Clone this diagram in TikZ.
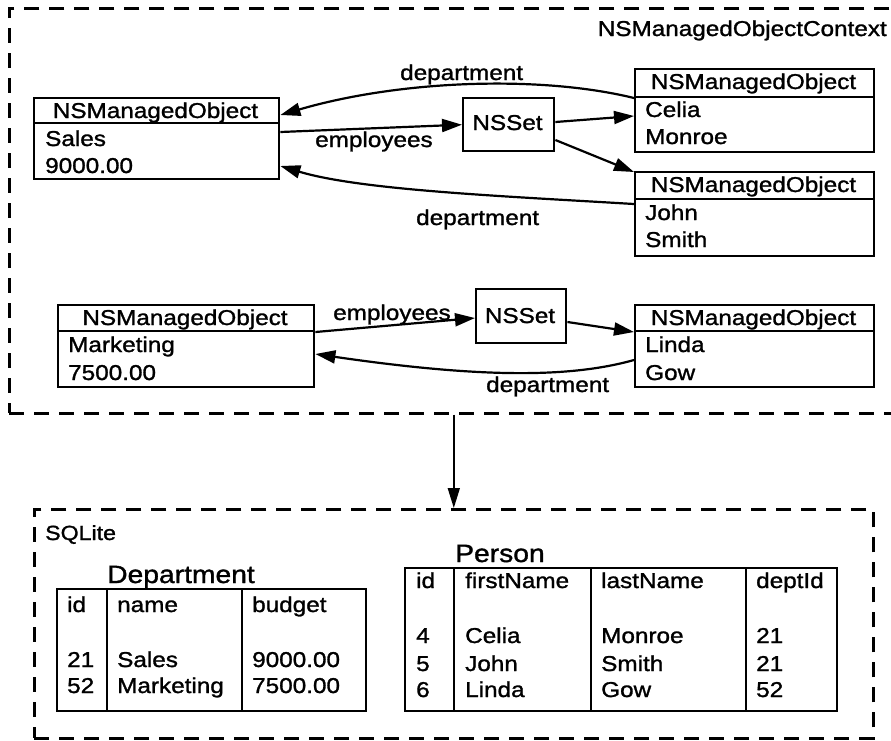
\documentclass[tikz,border=0pt]{standalone}
\usepackage{fontspec}
\setmainfont[FakeStretch=1.13,FakeBold=1.3]{Liberation Sans}
\usetikzlibrary{arrows.meta}
\begin{document}
\begin{tikzpicture}[x=1pt,y=-1pt,
  box/.style={draw,line width=2.4pt,inner sep=0pt},
  dashbox/.style={draw,line width=2.6pt,dash pattern=on 15pt off 10pt,inner sep=0pt},
  conn/.style={line width=2.2pt,-{Triangle[length=20pt,width=13pt]}},
  thinconn/.style={line width=1.6pt,-{Triangle[length=20pt,width=12pt]}},
  txt/.style={font=\fontsize{21.5}{24}\selectfont,inner sep=0pt,anchor=base west},
  ctxt/.style={font=\fontsize{21.5}{24}\selectfont,inner sep=0pt,anchor=base},
  ttl/.style={font=\fontsize{25}{28}\selectfont,inner sep=0pt,anchor=base west},
  divl/.style={line width=2.4pt}
]
\useasboundingbox (0,0) rectangle (891,740);

% outer context box
\node[dashbox,anchor=north west,minimum width=900pt,minimum height=405pt] (ctx) at (8,7) {};
\node[txt,anchor=base east] (ctxlbl) at (887,36) {NSManagedObjectContext};

% Sales object
\node[box,anchor=north west,minimum width=245pt,minimum height=81pt] (sales) at (33,97) {};
\draw[divl] (33,123) -- (278,123);
\node[ctxt] (salesh) at (155.5,118) {NSManagedObject};
\node[txt] (sales1) at (45,146) {Sales};
\node[txt] (sales2) at (45,173) {9000.00};

% Celia object
\node[box,anchor=north west,minimum width=239pt,minimum height=83pt] (celia) at (634,68) {};
\draw[divl] (634,97) -- (873,97);
\node[ctxt] (celiah) at (753.5,89) {NSManagedObject};
\node[txt] (celia1) at (645,117) {Celia};
\node[txt] (celia2) at (645,144) {Monroe};

% John object
\node[box,anchor=north west,minimum width=239pt,minimum height=84pt] (john) at (634,171) {};
\draw[divl] (634,199) -- (873,199);
\node[ctxt] (johnh) at (753.5,192) {NSManagedObject};
\node[txt] (john1) at (645,220) {John};
\node[txt] (john2) at (645,247) {Smith};

% NSSet 1
\node[box,anchor=north west,minimum width=91pt,minimum height=53pt] (set1) at (462,97) {};
\node[ctxt] (set1t) at (507.5,130) {NSSet};

% Marketing object
\node[box,anchor=north west,minimum width=256pt,minimum height=82pt] (mkt) at (57,304) {};
\draw[divl] (57,331) -- (313,331);
\node[ctxt] (mkth) at (185,325) {NSManagedObject};
\node[txt] (mkt1) at (68,352) {Marketing};
\node[txt] (mkt2) at (68,380) {7500.00};

% Linda object
\node[box,anchor=north west,minimum width=239pt,minimum height=82pt] (linda) at (634,304) {};
\draw[divl] (634,331) -- (873,331);
\node[ctxt] (lindah) at (753.5,325) {NSManagedObject};
\node[txt] (linda1) at (645,352) {Linda};
\node[txt] (linda2) at (645,380) {Gow};

% NSSet 2
\node[box,anchor=north west,minimum width=90pt,minimum height=54pt] (set2) at (475,288) {};
\node[ctxt] (set2t) at (520,323) {NSSet};

% connectors top group
\draw[conn] ([yshift=-30pt]celia.north west) .. controls (540,75) and (400,80) .. ([yshift=-18pt]sales.north east);
\node[txt] (l1) at (400,80) {department};
\draw[conn] ([yshift=-35pt]sales.north east) -- (set1.west);
\node[txt] (l2) at (315,147) {employees};
\draw[conn] ([yshift=-25pt]set1.north east) -- ([yshift=-48pt]celia.north west);
\draw[conn] ([yshift=-43pt]set1.north east) -- ([yshift=-1pt]john.north west);
\draw[conn] ([yshift=-33pt]john.north west) .. controls (500,196) and (360,190) .. ([yshift=-69pt]sales.north east);
\node[txt] (l3) at (416,225) {department};

% connectors lower group
\draw[conn] ([yshift=-28pt]mkt.north east) -- ([yshift=-30pt]set2.north west);
\node[txt] (l4) at (333,320) {employees};
\draw[conn] ([yshift=-34pt]set2.north east) -- ([yshift=-28pt]linda.north west);
\draw[conn] ([yshift=-56pt]linda.north west) .. controls (570,378) and (480,378) .. ([yshift=-50pt]mkt.north east);
\node[txt] (l5) at (486,392) {department};

% SQLite box
\node[dashbox,anchor=north west,minimum width=839pt,minimum height=229pt] (sql) at (33,508) {};
\node[txt,font=\fontsize{20.5}{23}\selectfont] (sqllbl) at (45,540) {SQLite};
\draw[thinconn] (sql.north |- ctx.south) -- (sql.north);

% Department table
\node[box,anchor=north west,minimum width=309pt,minimum height=122pt] (dept) at (56,588) {};
\draw[divl] (107,588) -- (107,710);
\draw[divl] (242,588) -- (242,710);
\node[ttl] (deptt) at (107,583) {Department};
\node[txt] (d11) at (67,612) {id};
\node[txt] (d12) at (117,612) {name};
\node[txt] (d13) at (252,612) {budget};
\node[txt] (d21) at (67,667) {21};
\node[txt] (d22) at (117,667) {Sales};
\node[txt] (d23) at (252,667) {9000.00};
\node[txt] (d31) at (67,693) {52};
\node[txt] (d32) at (117,693) {Marketing};
\node[txt] (d33) at (252,693) {7500.00};

% Person table
\node[box,anchor=north west,minimum width=432pt,minimum height=143pt] (pers) at (404,567) {};
\draw[divl] (454,567) -- (454,710);
\draw[divl] (591,567) -- (591,710);
\draw[divl] (746,567) -- (746,710);
\node[ttl] (perst) at (455,562) {Person};
\node[txt] (p11) at (416,588) {id};
\node[txt] (p12) at (465,588) {firstName};
\node[txt] (p13) at (601,588) {lastName};
\node[txt] (p14) at (756,588) {deptId};
\node[txt] (p21) at (416,643) {4};
\node[txt] (p22) at (465,643) {Celia};
\node[txt] (p23) at (601,643) {Monroe};
\node[txt] (p24) at (756,643) {21};
\node[txt] (p31) at (416,671) {5};
\node[txt] (p32) at (465,671) {John};
\node[txt] (p33) at (601,671) {Smith};
\node[txt] (p34) at (756,671) {21};
\node[txt] (p41) at (416,697) {6};
\node[txt] (p42) at (465,697) {Linda};
\node[txt] (p43) at (601,697) {Gow};
\node[txt] (p44) at (756,697) {52};
\end{tikzpicture}
\end{document}
